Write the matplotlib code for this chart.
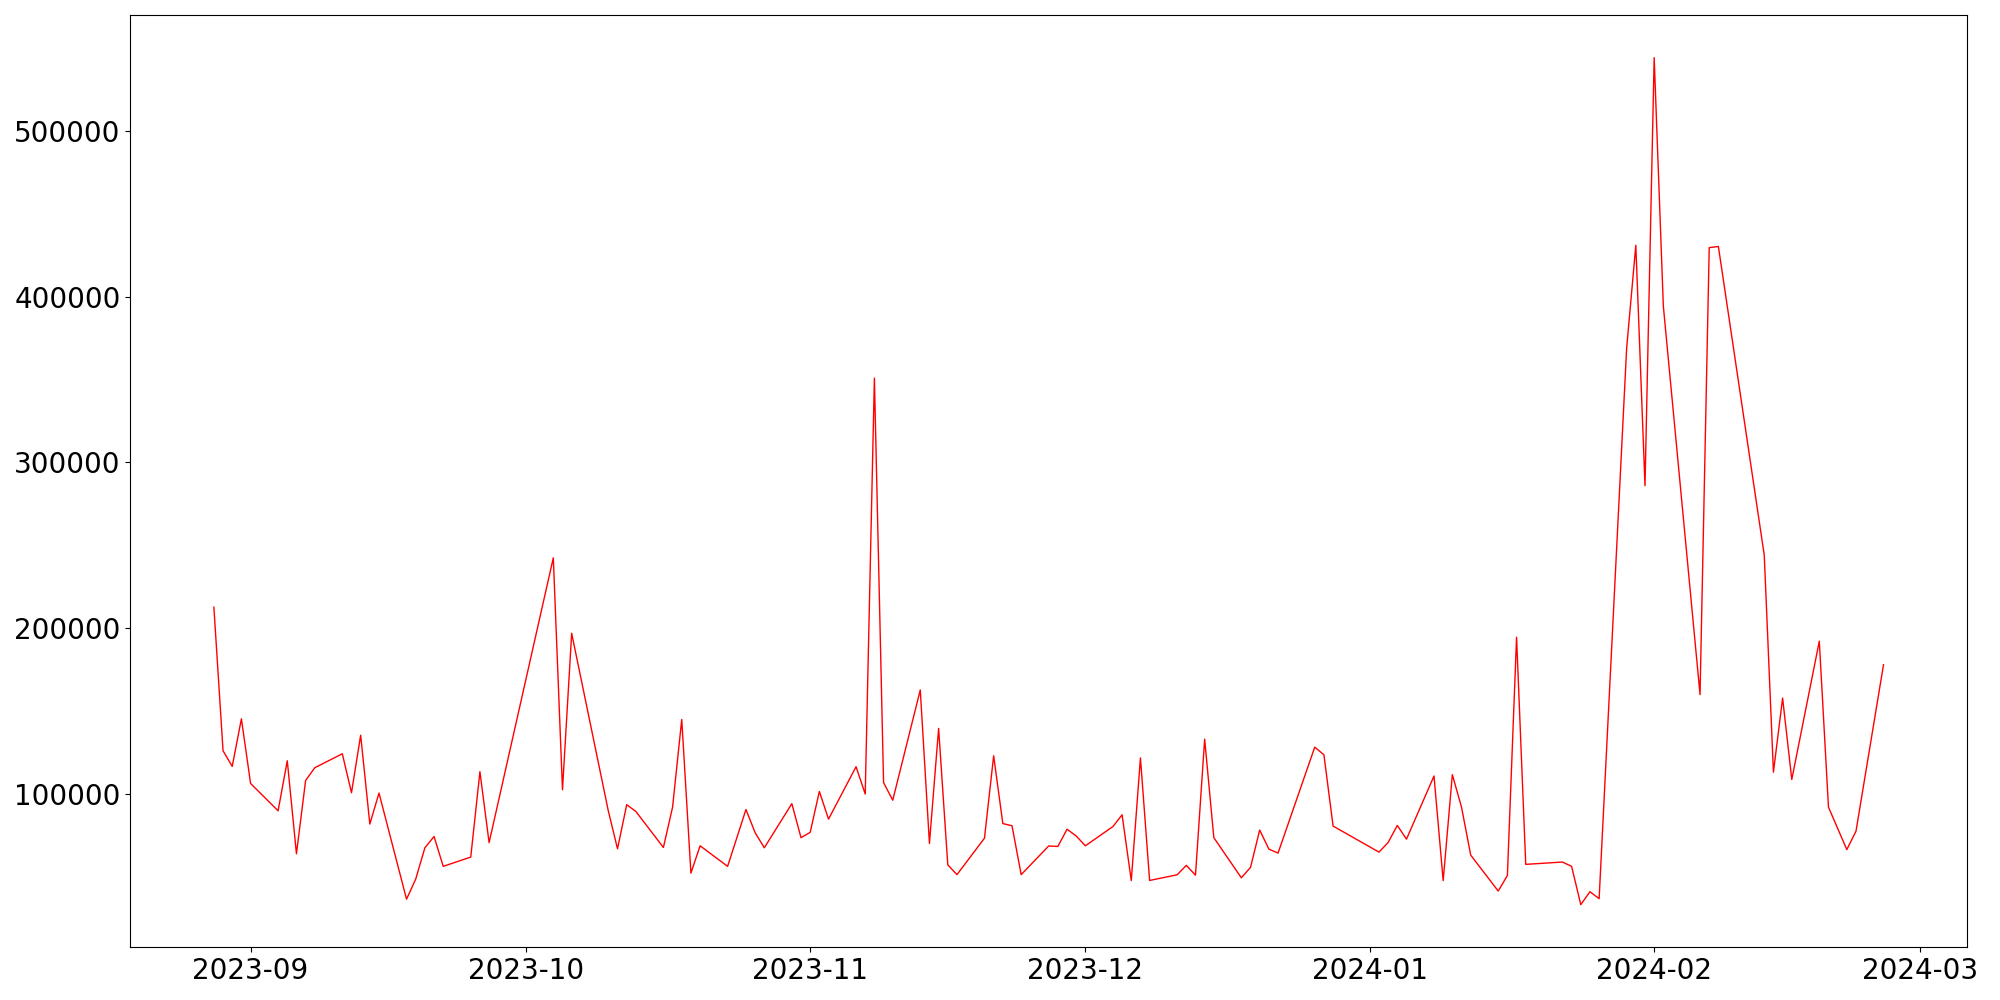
import matplotlib
matplotlib.use("Agg")
import matplotlib.pyplot as plt
import matplotlib.dates as mdates
import pandas as pd

dates = [
    "2023-08-28", "2023-08-29", "2023-08-30", "2023-08-31", "2023-09-01",
    "2023-09-04", "2023-09-05", "2023-09-06", "2023-09-07", "2023-09-08",
    "2023-09-11", "2023-09-12", "2023-09-13", "2023-09-14", "2023-09-15",
    "2023-09-18", "2023-09-19", "2023-09-20", "2023-09-21", "2023-09-22",
    "2023-09-25", "2023-09-26", "2023-09-27",
    "2023-10-04", "2023-10-05", "2023-10-06",
    "2023-10-10", "2023-10-11", "2023-10-12", "2023-10-13",
    "2023-10-16", "2023-10-17", "2023-10-18", "2023-10-19", "2023-10-20",
    "2023-10-23", "2023-10-25", "2023-10-26", "2023-10-27",
    "2023-10-30", "2023-10-31", "2023-11-01", "2023-11-02", "2023-11-03",
    "2023-11-06", "2023-11-07", "2023-11-08", "2023-11-09", "2023-11-10",
    "2023-11-13", "2023-11-14", "2023-11-15", "2023-11-16", "2023-11-17",
    "2023-11-20", "2023-11-21", "2023-11-22", "2023-11-23", "2023-11-24",
    "2023-11-27", "2023-11-28", "2023-11-29", "2023-11-30", "2023-12-01",
    "2023-12-04", "2023-12-05", "2023-12-06", "2023-12-07", "2023-12-08",
    "2023-12-11", "2023-12-12", "2023-12-13", "2023-12-14", "2023-12-15",
    "2023-12-18", "2023-12-19", "2023-12-20", "2023-12-21", "2023-12-22",
    "2023-12-26", "2023-12-27", "2023-12-28",
    "2024-01-02", "2024-01-03", "2024-01-04", "2024-01-05",
    "2024-01-08", "2024-01-09", "2024-01-10", "2024-01-11", "2024-01-12",
    "2024-01-15", "2024-01-16", "2024-01-17", "2024-01-18",
    "2024-01-22", "2024-01-23", "2024-01-24", "2024-01-25", "2024-01-26",
    "2024-01-29", "2024-01-30", "2024-01-31", "2024-02-01", "2024-02-02",
    "2024-02-06", "2024-02-07", "2024-02-08",
    "2024-02-13", "2024-02-14", "2024-02-15", "2024-02-16",
    "2024-02-19", "2024-02-20", "2024-02-22", "2024-02-23",
    "2024-02-26",
]

values = [
    212600, 126000, 116600, 145300, 106300,
    89800, 120000, 63900, 108100, 115800,
    124200, 100700, 135400, 81800, 100500,
    36500, 48600, 67500, 74300, 56300,
    61900, 113400, 70600,
    242400, 102500, 196900,
    89600, 66900, 93500, 89400,
    67700, 92000, 144900, 52200, 68700,
    56300, 90600, 76600, 67500,
    94100, 73600, 76800, 101500, 84800,
    116400, 99900, 350800, 106800, 96200,
    162700, 70100, 139500, 57200, 51300,
    73300, 123000, 82100, 80800, 51300,
    68600, 68300, 78700, 74600, 68700,
    80300, 87400, 47700, 121700, 47800,
    51200, 56900, 51000, 133000, 73600,
    49400, 55700, 78200, 66700, 64300,
    128200, 123600, 80600,
    64900, 70700, 81000, 72700,
    110800, 47700, 111600, 92000, 63100,
    41400, 50800, 194500, 57500,
    58900, 56300, 33200, 41000, 36800,
    368900, 430900, 285900, 544100, 394200,
    159900, 429500, 430200,
    244000, 113100, 157800, 108700,
    192100, 92000, 66400, 77500,
    177900,
]

x = pd.to_datetime(dates)

fig = plt.figure(figsize=(20, 10), dpi=100)
ax = fig.add_axes([0.0652, 0.053, 0.9183, 0.9317])
ax.plot(x, values, color="red", linewidth=1.0)

ax.xaxis.set_major_locator(mdates.MonthLocator())
ax.xaxis.set_major_formatter(mdates.DateFormatter("%Y-%m"))
ax.tick_params(axis="both", labelsize=20)

fig.savefig("out.png", dpi=100)
